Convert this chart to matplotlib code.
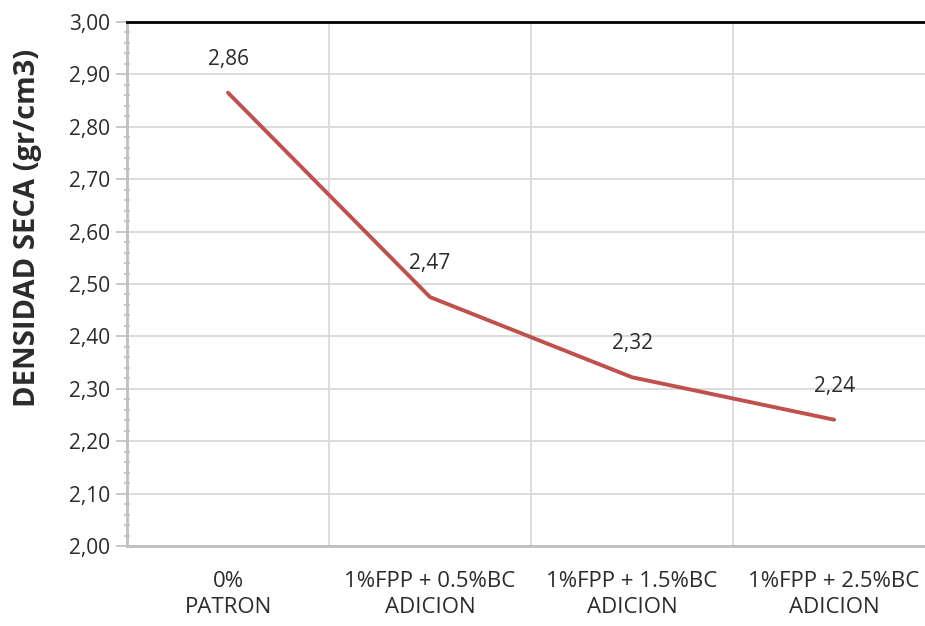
import matplotlib
matplotlib.use("Agg")
import matplotlib.pyplot as plt
from matplotlib.ticker import MultipleLocator, FixedLocator, FuncFormatter

categories = ["0%\nPATRON", "1%FPP + 0.5%BC\nADICION", "1%FPP + 1.5%BC\nADICION", "1%FPP + 2.5%BC\nADICION"]
values = [2.865, 2.475, 2.322, 2.241]
labels = ["2,86", "2,47", "2,32", "2,24"]

plt.rcParams['font.family'] = ['Open Sans', 'DejaVu Sans']
txt = '#2b2b2b'

fig = plt.figure(figsize=(9.25, 6.26), dpi=100)
ax = fig.add_axes([127/925, 1-546/626, (925-127)/925, (546-22)/626])

x = list(range(len(categories)))
ax.plot(x, values, color='#C0504D', lw=2.8, solid_capstyle='round', zorder=3)
for xi, v, lb in zip(x, values, labels):
    ax.annotate(lb, (xi, v), xytext=(0, 24), textcoords='offset points',
                ha='center', va='center', fontsize=15, color=txt)

ax.set_xlim(-0.5, 3.45)
ax.set_ylim(2.0, 3.0)
ax.yaxis.set_major_locator(MultipleLocator(0.1))
ax.yaxis.set_minor_locator(MultipleLocator(0.02))
ax.yaxis.set_major_formatter(FuncFormatter(lambda v, p: f"{v:.2f}".replace('.', ',')))
ax.set_xticks(x)
ax.set_xticklabels(categories, fontsize=16, color=txt, linespacing=1.32)
ax.xaxis.set_minor_locator(FixedLocator([0.5, 1.5, 2.5]))
ax.tick_params(axis='x', which='both', length=0, pad=18)
ax.tick_params(axis='y', which='major', length=8, width=1.2, color='#BFBFBF', labelsize=15, labelcolor=txt, pad=4)
ax.tick_params(axis='y', which='minor', length=5, width=1.2, color='#BFBFBF', direction='inout')

ax.grid(True, axis='y', which='major', color='#D9D9D9', lw=1.3)
ax.grid(True, axis='x', which='minor', color='#D9D9D9', lw=1.3)
ax.set_axisbelow(True)

for s in ['left', 'bottom']:
    ax.spines[s].set_color('#BFBFBF')
    ax.spines[s].set_linewidth(2)
ax.spines['right'].set_visible(False)
ax.spines['top'].set_color('black')
ax.spines['top'].set_linewidth(2)

fig.text(28/925, 1-228/626, "DENSIDAD SECA (gr/cm3)", rotation=90, ha='center', va='center',
         fontsize=21, fontweight='bold', color=txt)

fig.savefig("out.png", dpi=100)
